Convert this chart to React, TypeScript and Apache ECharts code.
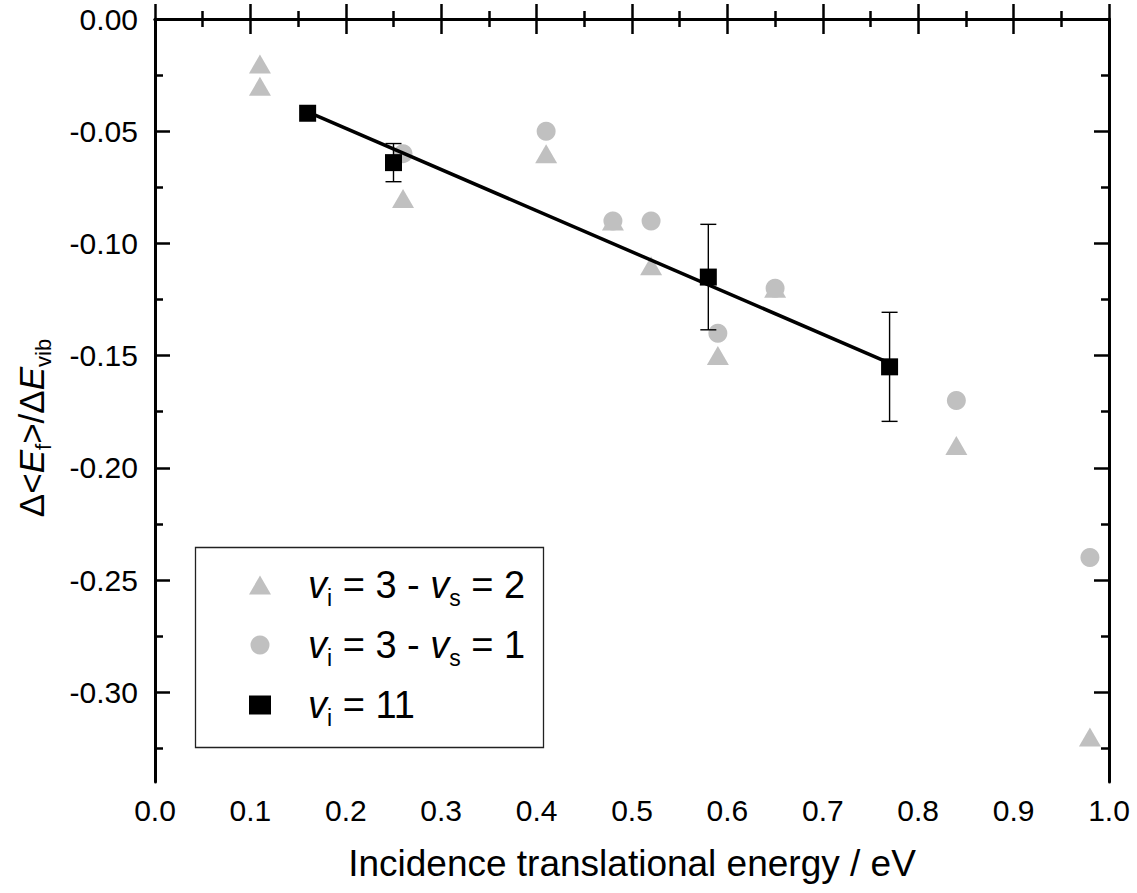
import React, { useEffect, useRef } from "react";
import * as echarts from "echarts";

// ---- data ----
const triX = [0.11, 0.11, 0.26, 0.41, 0.48, 0.52, 0.59, 0.65, 0.84, 0.98];
const triY = [-0.02, -0.03, -0.08, -0.06, -0.09, -0.11, -0.15, -0.12, -0.19, -0.32];
const cirX = [0.26, 0.41, 0.48, 0.52, 0.59, 0.65, 0.84, 0.98];
const cirY = [-0.06, -0.05, -0.09, -0.09, -0.14, -0.12, -0.17, -0.24];
const sqX = [0.16, 0.25, 0.58, 0.77];
const sqY = [-0.042, -0.064, -0.115, -0.155];
const sqErr = [0, 0.0085, 0.0235, 0.0243];
const fitX = [0.16, 0.77];
const fitY = [-0.0414, -0.1533];
const yMajor = [0, -0.05, -0.1, -0.15, -0.2, -0.25, -0.3];
const yMinor = [-0.025, -0.075, -0.125, -0.175, -0.225, -0.275, -0.325];
const xMin = 0;
const xMax = 1;
const yMin = -0.34;
const yMax = 0;

const NAME_TRI = "vi = 3 - vs = 2";
const NAME_CIR = "vi = 3 - vs = 1";
const NAME_SQ = "vi = 11";

const FONT = "'Liberation Sans', Arial, Helvetica, sans-serif";
const GRAY = "#c0c0c0";

export default function App() {
  const ref = useRef<HTMLDivElement>(null);
  useEffect(() => {
    if (!ref.current) return;
    const chart = echarts.init(ref.current, undefined, { renderer: "svg" });

    const axisLine = { show: true, lineStyle: { color: "#000", width: 3 } };
    const majorTick = { show: true, inside: true, length: 15, lineStyle: { color: "#000", width: 2.5 } };
    const minorTickStyle = { show: true, length: 8, lineStyle: { color: "#000", width: 2.5 } };

    const legendRich = {
      v0: { fontFamily: FONT, fontSize: 38, fontStyle: "italic", lineHeight: 48, padding: [0, 0, 0, 32], color: "#000" },
      v: { fontFamily: FONT, fontSize: 38, fontStyle: "italic", lineHeight: 48, color: "#000" },
      n: { fontFamily: FONT, fontSize: 38, lineHeight: 48, color: "#000" },
      s: { fontFamily: FONT, fontSize: 23, lineHeight: 22, verticalAlign: "bottom", color: "#000" },
    };

    const nameRich = {
      n: { fontFamily: FONT, fontSize: 35, lineHeight: 46, color: "#000" },
      e: { fontFamily: FONT, fontSize: 35, lineHeight: 46, fontStyle: "italic", color: "#000" },
      s: { fontFamily: FONT, fontSize: 22, lineHeight: 21, verticalAlign: "bottom", color: "#000" },
    };

    const option: any = {
      animation: false,
      backgroundColor: "#fff",
      textStyle: { fontFamily: FONT },
      grid: { left: 155, top: 19, right: 28, bottom: 111, containLabel: false },
      xAxis: [
        {
          type: "value",
          position: "bottom",
          min: xMin,
          max: xMax,
          interval: 0.1,
          axisLine,
          axisTick: majorTick,
          minorTick: { ...minorTickStyle, splitNumber: 2 },
          splitLine: { show: false },
          minorSplitLine: { show: false },
          axisLabel: {
            color: "#000",
            fontSize: 30,
            fontFamily: FONT,
            margin: 13,
            formatter: (v: number) => v.toFixed(1),
          },
          name: "Incidence translational energy / eV",
          nameLocation: "middle",
          nameGap: 63,
          nameTextStyle: { color: "#000", fontSize: 37, fontFamily: FONT },
        },
        {
          type: "value",
          position: "top",
          min: xMin,
          max: xMax,
          interval: 0.1,
          axisLine,
          axisTick: majorTick,
          minorTick: { ...minorTickStyle, splitNumber: 2 },
          splitLine: { show: false },
          axisLabel: { show: false },
        },
      ],
      yAxis: [
        {
          type: "value",
          position: "left",
          min: yMin,
          max: yMax,
          axisLine,
          axisTick: { ...majorTick, customValues: yMajor },
          splitLine: { show: false },
          axisLabel: {
            color: "#000",
            fontSize: 30,
            fontFamily: FONT,
            margin: 17,
            customValues: yMajor,
            formatter: (v: number) => v.toFixed(2),
          },
        },
        {
          type: "value",
          position: "left",
          min: yMin,
          max: yMax,
          axisLine: { show: false },
          axisTick: { show: true, inside: true, length: 8, lineStyle: { color: "#000", width: 2.5 }, customValues: yMinor },
          splitLine: { show: false },
          axisLabel: { show: false },
        },
        {
          type: "value",
          position: "right",
          min: yMin,
          max: yMax,
          axisLine,
          axisTick: { ...majorTick, customValues: yMajor },
          splitLine: { show: false },
          axisLabel: { show: false },
        },
        {
          type: "value",
          position: "right",
          min: yMin,
          max: yMax,
          axisLine: { show: false },
          axisTick: { show: true, inside: true, length: 8, lineStyle: { color: "#000", width: 2.5 }, customValues: yMinor },
          splitLine: { show: false },
          axisLabel: { show: false },
        },
      ],
      legend: {
        show: true,
        orient: "vertical",
        left: 249,
        top: 566,
        padding: 0,
        itemGap: 17,
        itemWidth: 22,
        itemHeight: 19,
        data: [
          { name: NAME_TRI, icon: "triangle" },
          { name: NAME_CIR, icon: "circle" },
          { name: NAME_SQ, icon: "rect" },
        ],
        formatter: (name: string) => {
          if (name === NAME_TRI) return "{v0|v}{s|i}{n| = 3 - }{v|v}{s|s}{n| = 2}";
          if (name === NAME_CIR) return "{v0|v}{s|i}{n| = 3 - }{v|v}{s|s}{n| = 1}";
          return "{v0|v}{s|i}{n| = 11}";
        },
        textStyle: { rich: legendRich },
      },
      graphic: [
        {
          type: "rect",
          shape: { x: 195.5, y: 547.5, width: 348, height: 200 },
          style: { fill: "none", stroke: "#222", lineWidth: 1.3 },
          z: 1,
        },
        {
          type: "text",
          x: 31,
          y: 428,
          rotation: Math.PI / 2,
          style: {
            text: "{n|Δ<}{e|E}{s|f}{n|>/Δ}{e|E}{s|vib}",
            rich: nameRich,
            align: "center",
            verticalAlign: "middle",
            fill: "#000",
          },
          z: 10,
        },
      ],
      series: [
        {
          name: NAME_TRI,
          type: "scatter",
          symbol: "triangle",
          symbolSize: [22, 19],
          itemStyle: { color: GRAY, opacity: 1 },
          data: triX.map((x, i) => [x, triY[i]]),
          z: 2,
        },
        {
          name: NAME_CIR,
          type: "scatter",
          symbol: "circle",
          symbolSize: 19,
          itemStyle: { color: GRAY, opacity: 1 },
          data: cirX.map((x, i) => [x, cirY[i]]),
          z: 3,
        },
        {
          name: "fit",
          type: "line",
          showSymbol: false,
          symbol: "none",
          lineStyle: { color: "#000", width: 3.5 },
          data: fitX.map((x, i) => [x, fitY[i]]),
          z: 4,
        },
        {
          name: "err",
          type: "custom",
          data: sqX.map((x, i) => [x, sqY[i], sqErr[i]]),
          renderItem: (params: any, api: any) => {
            const x = api.value(0);
            const y = api.value(1);
            const e = api.value(2);
            if (!e) return null;
            const top = api.coord([x, y + e]);
            const bot = api.coord([x, y - e]);
            const cap = 8;
            const st = { stroke: "#000", lineWidth: 1.4 };
            return {
              type: "group",
              children: [
                { type: "line", shape: { x1: top[0], y1: top[1], x2: bot[0], y2: bot[1] }, style: st },
                { type: "line", shape: { x1: top[0] - cap, y1: top[1], x2: top[0] + cap, y2: top[1] }, style: st },
                { type: "line", shape: { x1: bot[0] - cap, y1: bot[1], x2: bot[0] + cap, y2: bot[1] }, style: st },
              ],
            };
          },
          z: 5,
        },
        {
          name: NAME_SQ,
          type: "scatter",
          symbol: "rect",
          symbolSize: 17,
          itemStyle: { color: "#000", opacity: 1 },
          data: sqX.map((x, i) => [x, sqY[i]]),
          z: 6,
        },
      ],
    };

    chart.setOption(option);
    return () => chart.dispose();
  }, []);

  return (
    <div
      ref={ref}
      style={{ position: "absolute", left: 0, top: 0, width: 1137, height: 893, background: "#fff" }}
    />
  );
}
